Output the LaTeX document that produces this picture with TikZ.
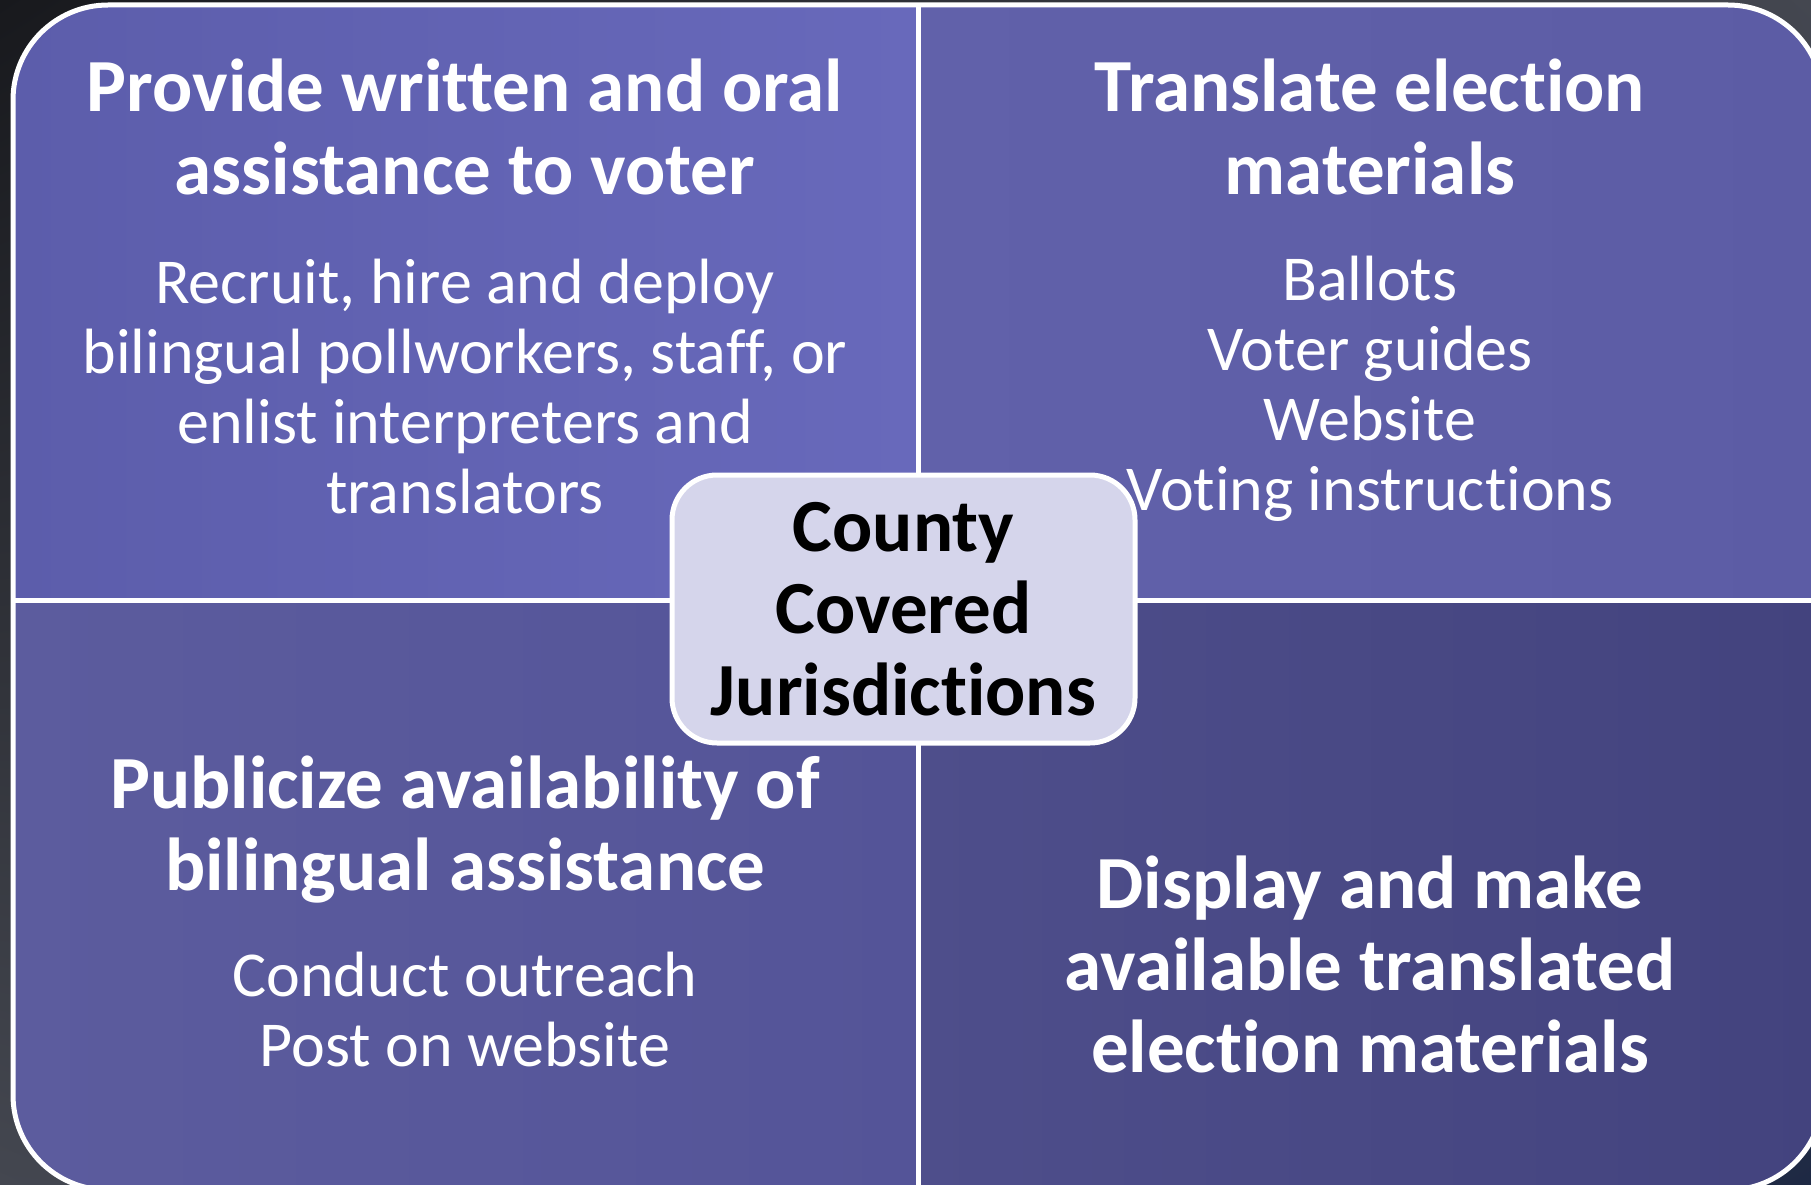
\documentclass[tikz,border=0pt]{standalone}
\usepackage{fontspec}
\setmainfont{Carlito}[Ligatures=NoCommon]
\usepackage{color}
\usepackage{tikz}
\usetikzlibrary{positioning,shadings}
\definecolor{bgdark}{HTML}{18191D}
\definecolor{bggrey}{HTML}{444750}
\definecolor{bgnavy}{HTML}{1E2944}
\definecolor{tlA}{HTML}{5C5DAB}
\definecolor{tlB}{HTML}{6869BB}
\definecolor{trA}{HTML}{6161AA}
\definecolor{trB}{HTML}{5C5CA5}
\definecolor{blA}{HTML}{5C5C9E}
\definecolor{blB}{HTML}{545498}
\definecolor{brA}{HTML}{4E4E8B}
\definecolor{brB}{HTML}{43437E}
\definecolor{hubfill}{HTML}{D5D5EB}

\begin{document}
\begin{tikzpicture}[x=1pt,y=-1pt,line join=round]
  \tikzstyle{title}=[text=white,align=center,inner sep=0pt,anchor=base,
                     font=\fontsize{75}{82}\selectfont\bfseries]
  \tikzstyle{body}=[text=white,align=center,inner sep=0pt,anchor=base,
                    font=\fontsize{64}{70}\selectfont]
  \tikzstyle{hub}=[fill=hubfill,draw=white,line width=5pt,rounded corners=45pt,
                   minimum width=463pt,minimum height=268pt,align=center,inner sep=0pt,
                   text=black,font=\fontsize{75}{82}\selectfont\bfseries]

  \useasboundingbox (0,0) rectangle (1811,1185);
  \shade[upper left=bgdark,upper right=bggrey,lower left=bggrey,lower right=bgnavy]
    (0,0) rectangle (1811,1185);

  \coordinate (nw)  at (13,5);
  \coordinate (se)  at (1823,1190);
  \coordinate (mid) at (918,600);

  % the four quadrants
  \begin{scope}
    \clip[rounded corners=95pt] (nw) rectangle (se);
    \shade[shading angle=-60,left color=tlA,right color=tlB] (nw) rectangle (mid);
    \shade[shading angle=-60,left color=trA,right color=trB] (mid |- nw) rectangle (se |- mid);
    \shade[shading angle=-60,left color=blA,right color=blB] (nw |- mid) rectangle (mid |- se);
    \shade[shading angle=-60,left color=brA,right color=brB] (mid) rectangle (se);
  \end{scope}
  \draw[white,line width=5pt,rounded corners=95pt] (nw) rectangle (se);
  \draw[white,line width=5pt] (mid |- nw) -- (mid |- se)
                              (nw |- mid) -- (se |- mid);

  % texts, placed at the baseline of their last line
  \node[title] (tlt) at (465,194)  {Provide written and oral\\assistance to voter};
  \node[body]  (tlb) at (465,513)  {Recruit, hire and deploy\\bilingual pollworkers, staff, or\\enlist interpreters and\\translators};
  \node[title] (trt) at (1370,194) {Translate election\\materials};
  \node[body]  (trb) at (1370,510) {Ballots\\Voter guides\\Website\\Voting instructions};
  \node[title] (blt) at (465,890)  {Publicize availability of\\bilingual assistance};
  \node[body]  (blb) at (465,1066) {Conduct outreach\\Post on website};
  \node[title] (brt) at (1370,1072) {Display and make\\available translated\\election materials};

  \node[hub] (hub) at (903.5,609) {County\\Covered\\Jurisdictions};
\end{tikzpicture}
\end{document}
